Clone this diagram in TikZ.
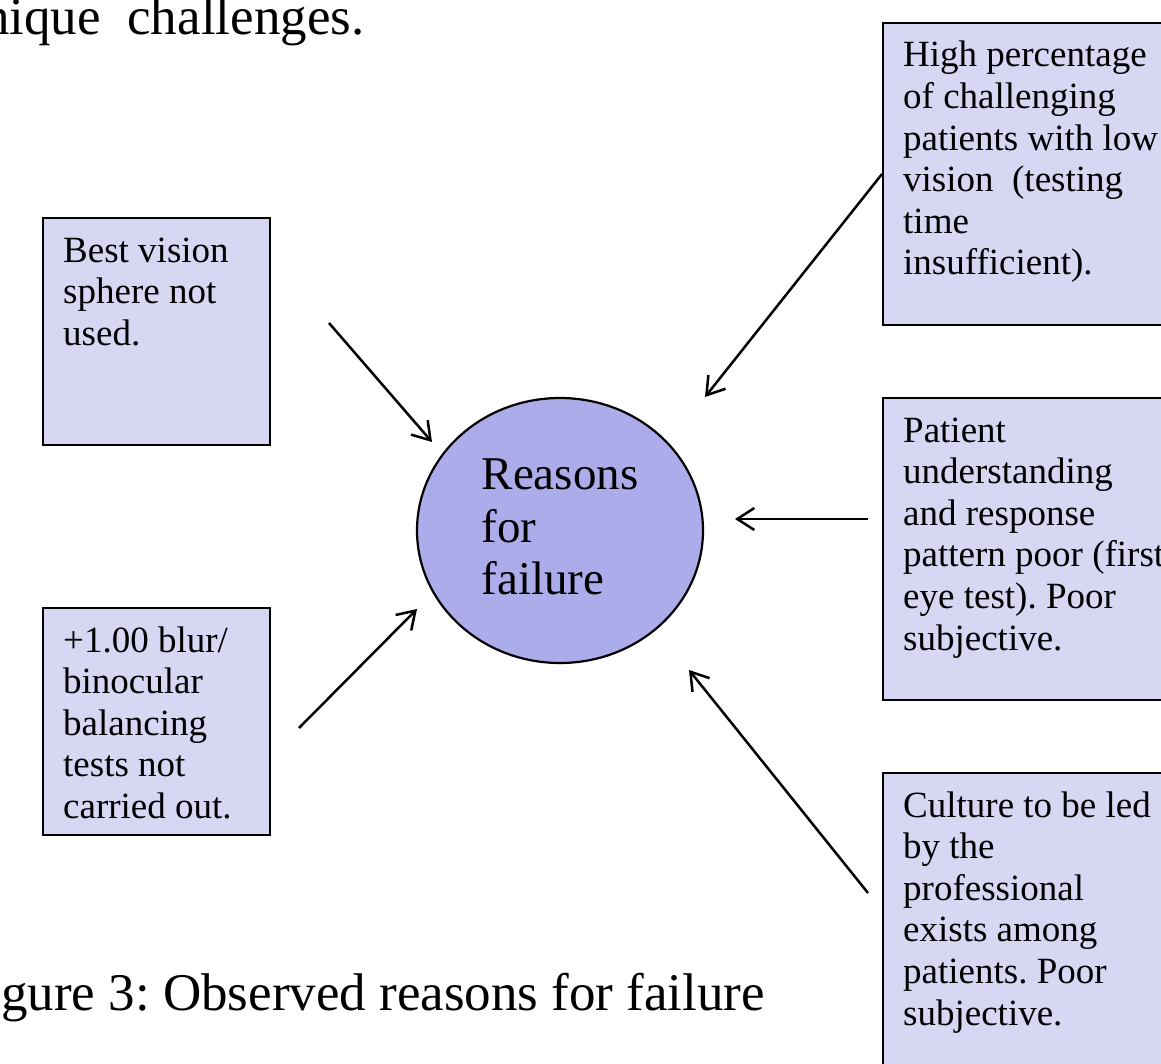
\documentclass[tikz,border=0pt]{standalone}
\usepackage{fontspec}
\setmainfont{Liberation Serif}
\usetikzlibrary{arrows.meta,shapes.geometric}
\definecolor{boxfill}{RGB}{215,215,243}
\definecolor{hubfill}{RGB}{172,172,234}
\frenchspacing
\begin{document}
\begin{tikzpicture}[x=1pt,y=-1pt,
  reasonbox/.style={draw=black, line width=2pt, fill=boxfill, rectangle, inner sep=0pt},
  % the base anchor of a multi-line text sits on its last line
  reasontext/.style={anchor=base west, inner sep=0pt, align=left,
    font={\fontsize{37}{41.6}\selectfont}},
  hub/.style={draw=black, line width=2.2pt, fill=hubfill, ellipse, inner sep=0pt,
    minimum width=286pt, minimum height=265pt, align=left, text depth=7pt,
    font={\fontsize{47}{52.5}\selectfont}},
  bodytext/.style={anchor=base west, inner sep=0pt, font={\fontsize{53}{60}\selectfont}},
  feed/.style={line width=2.5pt, -{Straight Barb[length=17pt,width=22pt]}}]
\useasboundingbox (0,0) rectangle (1161,1064);
\clip (0,0) rectangle (1161,1064);

% running text around the figure
\node[bodytext] (prose) at (-17,35) {nique\ \ challenges.};
\node[bodytext] (caption) at (1,1010) {gure 3: Observed reasons for failure};

% central hub
\node[hub] (hub) at (560,530.5) {Reasons\\for\\failure};

% left boxes
\node[reasonbox, minimum width=227pt, minimum height=227pt] (b1) at (156.5,331.5) {};
\node[reasontext] (t1) at (63,345.2) {Best vision\\sphere not\\used.};
\node[reasonbox, minimum width=227pt, minimum height=227pt] (b2) at (156.5,721.5) {};
\node[reasontext] (t2) at (63,818.4) {+1.00 blur/\\binocular\\balancing\\tests not\\carried out.};

% right boxes (running past the right edge)
\node[reasonbox, minimum width=317pt, minimum height=302pt] (b3) at (1041.5,174) {};
\node[reasontext] (t3) at (903,275) {High percentage\\of challenging\\patients with low\\vision\ \ (testing\\time\\insufficient).};
\node[reasonbox, minimum width=317pt, minimum height=302pt] (b4) at (1041.5,549) {};
\node[reasontext] (t4) at (903,650) {Patient\\understanding\\and response\\pattern poor (first\\eye test). Poor\\subjective.};
\node[reasonbox, minimum width=317pt, minimum height=330pt] (b5) at (1041.5,938) {};
\node[reasontext] (t5) at (903,1025) {Culture to be led\\by the\\professional\\exists among\\patients. Poor\\subjective.};

% arrow ends
\coordinate (s1) at (329,323);
\coordinate (e1) at (432,442);
\coordinate (s2) at (299,728);
\coordinate (e2) at (417,609);
\coordinate (e3) at (705,397);
\coordinate (s4) at (868,519);
\coordinate (e4) at (735,519);
\coordinate (s5) at (868,893);
\coordinate (e5) at (689,670);

\draw[feed] (s1) -- (e1);
\draw[feed] (s2) -- (e2);
\draw[feed] (b3.west) -- (e3);
\draw[feed] (s4) -- (e4);
\draw[feed] (s5) -- (e5);
\end{tikzpicture}
\end{document}
